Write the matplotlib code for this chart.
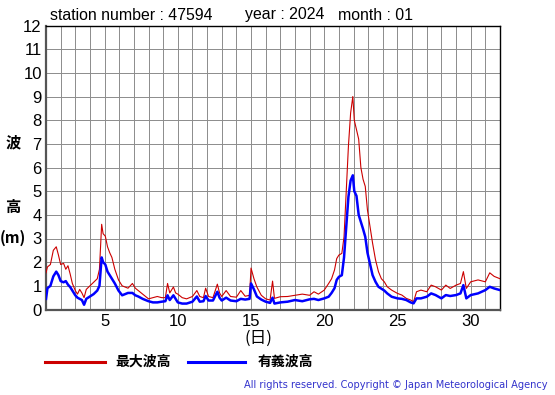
import matplotlib
matplotlib.use('Agg')
import matplotlib.pyplot as plt
from matplotlib.ticker import MultipleLocator

# day of month (fractional), max wave height (m), significant wave height (m)
days = [
    1.0, 1.1, 1.3, 1.5, 1.7, 1.85, 2.0, 2.2, 2.35, 2.5, 2.65, 2.8, 3.0, 3.15,
    3.3, 3.45, 3.6, 3.75, 4.0, 4.25, 4.5, 4.65, 4.8, 4.9, 5.05, 5.2, 5.35, 5.5,
    5.7, 5.95, 6.2, 6.4, 6.6, 6.9, 7.1, 7.3, 7.6, 7.8, 8.0, 8.3, 8.6, 8.9,
    9.15, 9.3, 9.45, 9.7, 9.85, 10.0, 10.3, 10.6, 11.0, 11.3, 11.5, 11.75,
    11.9, 12.1, 12.4, 12.7, 12.85, 13.0, 13.3, 13.6, 14.0, 14.3, 14.6, 14.9,
    15.0, 15.2, 15.4, 15.7, 16.0, 16.3, 16.47, 16.6, 17.0, 17.5, 18.0, 18.5,
    19.0, 19.3, 19.6, 20.0, 20.3, 20.5, 20.7, 20.85, 21.0, 21.2, 21.35, 21.5,
    21.65, 21.8, 21.95, 22.05, 22.2, 22.35, 22.5, 22.65, 22.8, 22.95, 23.1,
    23.3, 23.5, 23.7, 23.9, 24.1, 24.3, 24.6, 25.0, 25.3, 25.6, 25.9, 26.1,
    26.3, 26.6, 27.0, 27.3, 27.6, 28.0, 28.3, 28.6, 29.0, 29.3, 29.5, 29.7,
    30.0, 30.5, 31.0, 31.3, 31.6, 32.0,
]
max_height = [
    1.55, 1.8, 1.9, 2.5, 2.65, 2.3, 1.9, 1.95, 1.7, 1.85, 1.5, 1.1, 0.8, 0.65,
    0.85, 0.7, 0.5, 0.85, 1.0, 1.15, 1.3, 1.7, 3.6, 3.2, 3.1, 2.65, 2.4, 2.2,
    1.7, 1.25, 1.0, 0.95, 0.9, 1.1, 0.9, 0.8, 0.65, 0.55, 0.45, 0.5, 0.55, 0.5,
    0.5, 1.1, 0.7, 0.95, 0.7, 0.65, 0.5, 0.45, 0.55, 0.8, 0.55, 0.5,
    0.9, 0.55, 0.5, 1.07, 0.7, 0.55, 0.8, 0.55, 0.52, 0.8, 0.56, 0.6,
    1.75, 1.3, 0.95, 0.6, 0.45, 0.4, 1.2, 0.47, 0.54, 0.55, 0.6, 0.65,
    0.6, 0.75, 0.65, 0.82, 1.1, 1.3, 1.67, 2.15, 2.3, 2.37, 3.07, 5.0,
    6.9, 8.3, 9.0, 8.0, 7.6, 7.2, 6.0, 5.5, 5.2, 4.2, 3.6,
    2.8, 2.1, 1.6, 1.3, 1.17, 0.96, 0.82, 0.68, 0.61, 0.47, 0.4, 0.33,
    0.75, 0.82, 0.75, 1.03, 0.96, 0.82, 1.03, 0.89, 1.03, 1.1, 1.6, 0.89,
    1.17, 1.25, 1.17, 1.55, 1.4, 1.3,
]
sig_height = [
    0.45, 0.9, 1.0, 1.4, 1.6, 1.45, 1.2, 1.15, 1.2, 1.05, 0.95, 0.8, 0.6, 0.5,
    0.45, 0.4, 0.2, 0.45, 0.55, 0.65, 0.8, 1.0, 2.2, 2.0, 1.9, 1.6, 1.45, 1.3,
    1.1, 0.8, 0.6, 0.65, 0.7, 0.7, 0.6, 0.55, 0.45, 0.4, 0.35, 0.3, 0.3, 0.33,
    0.35, 0.6, 0.4, 0.6, 0.45, 0.3, 0.25, 0.25, 0.33, 0.55, 0.33, 0.35,
    0.57, 0.38, 0.38, 0.75, 0.5, 0.38, 0.5, 0.38, 0.35, 0.45, 0.42, 0.45,
    1.1, 0.85, 0.55, 0.42, 0.33, 0.28, 0.5, 0.25, 0.3, 0.33, 0.4, 0.35,
    0.43, 0.45, 0.4, 0.47, 0.54, 0.7, 0.9, 1.25, 1.38, 1.45, 2.2, 3.5,
    4.76, 5.45, 5.67, 5.0, 4.8, 4.0, 3.7, 3.4, 3.07, 2.4, 2.0,
    1.45, 1.17, 0.96, 0.88, 0.8, 0.68, 0.54, 0.47, 0.45, 0.4, 0.3, 0.26,
    0.47, 0.47, 0.54, 0.68, 0.61, 0.47, 0.61, 0.57, 0.61, 0.68, 1.03, 0.47,
    0.61, 0.68, 0.82, 0.96, 0.89, 0.82,
]
x_ticks = [5, 10, 15, 20, 25, 30]
y_ticks = list(range(0, 13))

LATIN = ['Liberation Sans', 'DejaVu Sans']
CJK = ['Noto Sans CJK JP', 'DejaVu Sans']


def main():
    plt.rcParams['font.family'] = LATIN
    fig = plt.figure(figsize=(5.55, 3.95), dpi=100)
    ax = fig.add_axes([46 / 555, 85.5 / 395, 454 / 555, 284 / 395])

    ax.plot(days, max_height, color='#cc0000', lw=0.8, zorder=3)
    ax.plot(days, sig_height, color='#0000ff', lw=1.8, zorder=4)

    ax.set_xlim(1, 32)
    ax.set_ylim(0, 12)
    ax.set_xticks(x_ticks)
    ax.set_yticks(y_ticks)
    ax.xaxis.set_minor_locator(MultipleLocator(1))
    ax.grid(True, which='both', color='#8c8c8c', lw=0.7)
    ax.set_axisbelow(True)
    ax.tick_params(which='both', length=0, labelsize=12, pad=3)

    for side in ('left', 'bottom'):
        ax.spines[side].set_color('#555555')
        ax.spines[side].set_linewidth(1.6)
    for side in ('top', 'right'):
        ax.spines[side].set_color('black')
        ax.spines[side].set_linewidth(1.0)

    fig.text(50 / 555, 1 - 15 / 395, 'station number : 47594', fontsize=11.4,
             va='center', ha='left')
    fig.text(245 / 555, 1 - 15 / 395, 'year : 2024', fontsize=11.4,
             va='center', ha='left')
    fig.text(338 / 555, 1 - 15 / 395, 'month : 01', fontsize=11.4,
             va='center', ha='left')

    # y label, drawn as separate characters like the original
    fig.text(13 / 555, 1 - 142 / 395, '波', family=CJK, fontsize=11,
             fontweight='bold', ha='center', va='center')
    fig.text(13 / 555, 1 - 207 / 395, '高', family=CJK, fontsize=11,
             fontweight='bold', ha='center', va='center')
    fig.text(13 / 555, 1 - 238 / 395, '(m)', family=CJK, fontsize=11,
             fontweight='bold', ha='center', va='center')
    fig.text(258 / 555, 1 - 338 / 395, '(日)', family=CJK, fontsize=12,
             ha='center', va='center')

    # legend
    fig.add_artist(plt.Line2D([45 / 555, 105 / 555], [1 - 362 / 395] * 2,
                              color='#cc0000', lw=2.2))
    fig.text(115 / 555, 1 - 362 / 395, '最大波高', family=CJK, fontsize=10,
             fontweight='bold', ha='left', va='center')
    fig.add_artist(plt.Line2D([188 / 555, 245 / 555], [1 - 362 / 395] * 2,
                              color='#0000ff', lw=2.2))
    fig.text(258 / 555, 1 - 362 / 395, '有義波高', family=CJK, fontsize=10,
             fontweight='bold', ha='left', va='center')

    fig.text(548 / 555, 1 - 385 / 395,
             'All rights reserved. Copyright © Japan Meteorological Agency',
             family=['DejaVu Sans'], fontsize=7.1, color='#3333cc',
             ha='right', va='center')

    fig.savefig('out.png', dpi=100)


if __name__ == '__main__':
    main()
